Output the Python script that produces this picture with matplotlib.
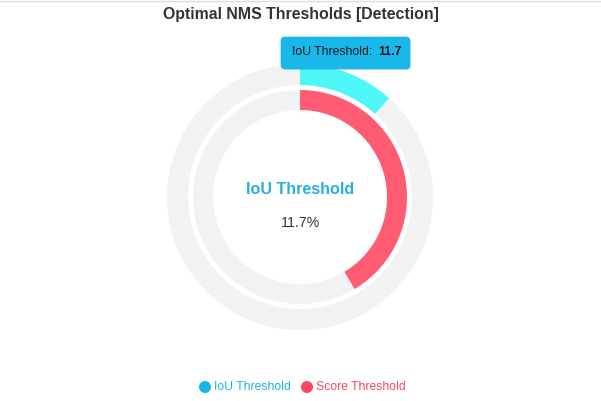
import matplotlib
matplotlib.use("Agg")
from matplotlib import pyplot as plt
from matplotlib.patches import FancyBboxPatch, Circle

plt.rcParams['font.family'] = ['Liberation Sans', 'DejaVu Sans']

title = "Optimal NMS Thresholds [Detection]"
series_names = ["IoU Threshold", "Score Threshold"]
values = [11.7, 41.5]
ring_colors = ["#4df7f8", "#ff5c74"]
legend_colors = ["#1ab4e8", "#ff4564"]
track_color = "#f2f2f2"

W, H = 601, 401
fig = plt.figure(figsize=(W / 100, H / 100), dpi=100)
ax = fig.add_axes([0, 0, 1, 1])

cx, cy = 300, H - 197
# outer ring (IoU) and inner ring (score), each with a grey track
rings = [(133, 21), (107, 20)]
for (r, w), v, col in zip(rings, values, ring_colors):
    ax.pie([v, 100 - v], colors=[col, track_color], radius=r, center=(cx, cy),
           startangle=90, counterclock=False, frame=True,
           wedgeprops=dict(width=w, linewidth=0))

ax.set_xlim(0, W)
ax.set_ylim(0, H)
ax.set_aspect('equal')
ax.axis('off')

# top border line
ax.plot([0, W], [H - 0.5, H - 0.5], color="#dddddd", lw=1)

ax.text(W / 2, H - 14, title, ha='center', va='center', fontsize=11.4,
        fontweight='bold', color='#333333')

# centre label
ax.text(cx, H - 190, series_names[0], ha='center', va='center', fontsize=11.6,
        fontweight='bold', color='#29aee3')
ax.text(cx, H - 223, f"{values[0]}%", ha='center', va='center', fontsize=10.2,
        color='#333333')

# tooltip with faint shadow
shadow = FancyBboxPatch((283, H - 70), 128, 31, boxstyle="round,pad=0,rounding_size=4",
                        fc="#000000", ec="none", alpha=0.08, zorder=4)
ax.add_patch(shadow)
box = FancyBboxPatch((281, H - 69), 129, 32, boxstyle="round,pad=0,rounding_size=4",
                     fc="#1ab7ea", ec="#1ab7ea", lw=0.5, zorder=5)
ax.add_patch(box)
ax.text(292, H - 52, series_names[0] + ":", ha='left', va='center', fontsize=8.8,
        color='#1a1a1a', zorder=6)
ax.text(378, H - 52, f"{values[0]}", ha='left', va='center', fontsize=8.8,
        fontweight='bold', color='#1a1a1a', zorder=6)

# legend
leg_x = [205, 307]
for x, name, col in zip(leg_x, series_names, legend_colors):
    ax.add_patch(Circle((x, H - 387), 6, color=col, lw=0))
    ax.text(x + 9, H - 387, name, ha='left', va='center', fontsize=8.8,
            color=col)

fig.savefig("out.png", dpi=100)
